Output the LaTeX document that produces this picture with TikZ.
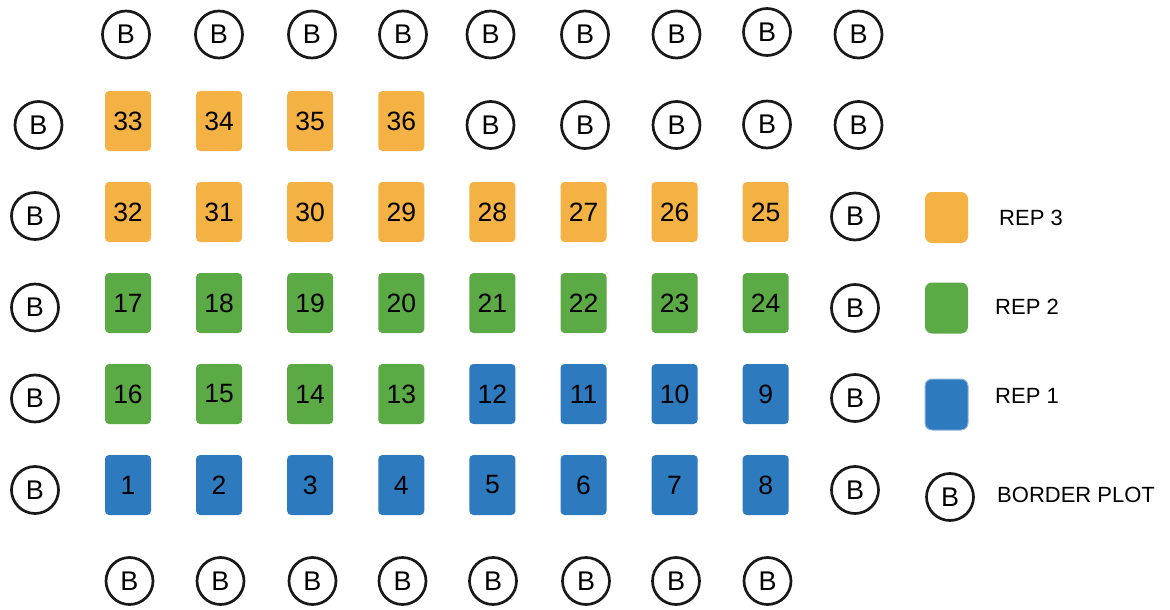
\documentclass[tikz,border=0pt]{standalone}
\usepackage{fontspec}
\setmainfont{Liberation Sans}
\definecolor{repthree}{HTML}{F3B243}
\definecolor{reptwo}{HTML}{5CAA46}
\definecolor{repone}{HTML}{2E7ABF}
\tikzset{
  plotbox/.style={rounded corners=4pt, minimum width=46pt, minimum height=60pt, inner sep=0pt, font=\fontsize{26.5}{26.5}\selectfont},
  rthree/.style={plotbox, fill=repthree},
  rtwo/.style={plotbox, fill=reptwo},
  rone/.style={plotbox, fill=repone},
  bplot/.style={circle, draw=black!90, line width=2.7pt, minimum size=47pt, inner sep=0pt, font=\fontsize{27}{27}\selectfont},
  legbox/.style={rounded corners=7pt, minimum width=43pt, minimum height=51pt, inner sep=0pt},
  legtext/.style={anchor=west, inner sep=0pt, font=\fontsize{22}{22}\selectfont}
}
\begin{document}
\begin{tikzpicture}[x=1pt,y=-1pt]
\useasboundingbox (0,0) rectangle (1170,610);
% plot boxes
\def\cA{128}\def\cB{219.1}\def\cC{310.2}\def\cD{401.3}\def\cE{492.4}\def\cF{583.5}\def\cG{674.6}\def\cH{765.7}
% row 1
\node[rthree] (p33) at (\cA,121) {33};
\node[rthree] (p34) at (\cB,121) {34};
\node[rthree] (p35) at (\cC,121) {35};
\node[rthree] (p36) at (\cD,121) {36};
% row 2
\node[rthree] (p32) at (\cA,212) {32};
\node[rthree] (p31) at (\cB,212) {31};
\node[rthree] (p30) at (\cC,212) {30};
\node[rthree] (p29) at (\cD,212) {29};
\node[rthree] (p28) at (\cE,212) {28};
\node[rthree] (p27) at (\cF,212) {27};
\node[rthree] (p26) at (\cG,212) {26};
\node[rthree] (p25) at (\cH,212) {25};
% row 3
\node[rtwo] (p17) at (\cA,303) {17};
\node[rtwo] (p18) at (\cB,303) {18};
\node[rtwo] (p19) at (\cC,303) {19};
\node[rtwo] (p20) at (\cD,303) {20};
\node[rtwo] (p21) at (\cE,303) {21};
\node[rtwo] (p22) at (\cF,303) {22};
\node[rtwo] (p23) at (\cG,303) {23};
\node[rtwo] (p24) at (\cH,303) {24};
% row 4
\node[rtwo] (p16) at (\cA,394) {16};
\node[rtwo] (p15) at (\cB,394) {15};
\node[rtwo] (p14) at (\cC,394) {14};
\node[rtwo] (p13) at (\cD,394) {13};
\node[rone] (p12) at (\cE,394) {12};
\node[rone] (p11) at (\cF,394) {11};
\node[rone] (p10) at (\cG,394) {10};
\node[rone] (p9) at (\cH,394) {9};
% row 5
\node[rone] (p1) at (\cA,485) {1};
\node[rone] (p2) at (\cB,485) {2};
\node[rone] (p3) at (\cC,485) {3};
\node[rone] (p4) at (\cD,485) {4};
\node[rone] (p5) at (\cE,485) {5};
\node[rone] (p6) at (\cF,485) {6};
\node[rone] (p7) at (\cG,485) {7};
\node[rone] (p8) at (\cH,485) {8};
% top border row
\node[bplot] (t1) at (126,34.5) {B};
\node[bplot] (t2) at (219,34.5) {B};
\node[bplot] (t3) at (312,34.5) {B};
\node[bplot] (t4) at (403,34.5) {B};
\node[bplot] (t5) at (490.5,34.5) {B};
\node[bplot] (t6) at (585,34.5) {B};
\node[bplot] (t7) at (676.5,34.5) {B};
\node[bplot] (t8) at (767,32) {B};
\node[bplot] (t9) at (858.5,34.5) {B};
% second row borders
\node[bplot] (s0) at (38.5,125) {B};
\node[bplot] (s5) at (490.5,125) {B};
\node[bplot] (s6) at (585,125) {B};
\node[bplot] (s7) at (676.5,125) {B};
\node[bplot] (s8) at (767,124.5) {B};
\node[bplot] (s9) at (858.5,125) {B};
% left column
\node[bplot] (l3) at (35,216) {B};
\node[bplot] (l4) at (35,307.5) {B};
\node[bplot] (l5) at (35,398.5) {B};
\node[bplot] (l6) at (35,490) {B};
% right column
\node[bplot] (r3) at (855,216.5) {B};
\node[bplot] (r4) at (855,308) {B};
\node[bplot] (r5) at (855,398) {B};
\node[bplot] (r6) at (855,490) {B};
% bottom row
\node[bplot] (u1) at (129.5,581) {B};
\node[bplot] (u2) at (220.5,581) {B};
\node[bplot] (u3) at (312.5,581) {B};
\node[bplot] (u4) at (402.5,581) {B};
\node[bplot] (u5) at (493,581) {B};
\node[bplot] (u6) at (586,581) {B};
\node[bplot] (u7) at (676,581) {B};
\node[bplot] (u8) at (767.5,581) {B};
% legend
\node[legbox, fill=repthree] (k3) at (946.5,217.5) {};
\node[legtext] (k3t) at (999,218) {REP 3};
\node[legbox, fill=reptwo] (k2) at (946.5,308) {};
\node[legtext] (k2t) at (995,307) {REP 2};
\node[legbox, fill=repone, draw=repone!55, line width=1pt] (k1) at (946.5,404.5) {};
\node[legtext] (k1t) at (995,396) {REP 1};
\node[bplot] (kb) at (950,497) {B};
\node[legtext] (kbt) at (997,495) {BORDER PLOT};
\end{tikzpicture}
\end{document}
